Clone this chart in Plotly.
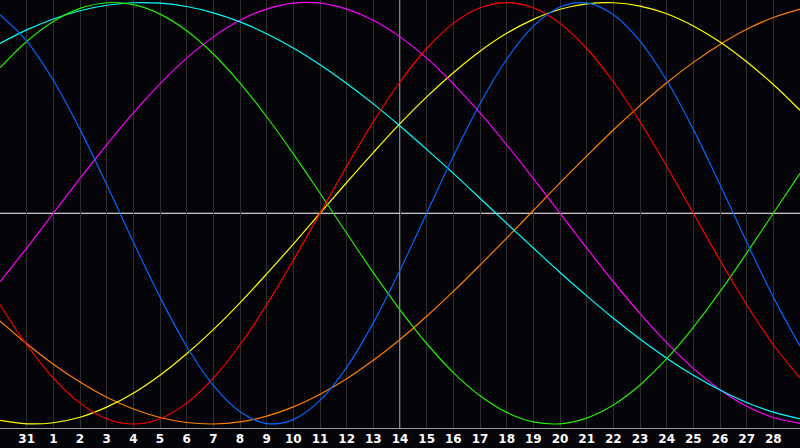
import plotly.graph_objects as go

# day positions across the chart (0..30), labels on days 1..29
days = list(range(31))
tick_pos = list(range(1, 30))
tick_labels = ["31"] + [str(d) for d in range(1, 29)]

# curve values, one per day
blue = [0.942, 0.817, 0.631, 0.398, 0.136, -0.136, -0.398, -0.631, -0.817, -0.942,
        -0.998, -0.979, -0.888, -0.731, -0.520, -0.270, 0.0, 0.270, 0.520, 0.731,
        0.888, 0.979, 0.998, 0.942, 0.817, 0.631, 0.398, 0.136, -0.136, -0.398, -0.631]
red = [-0.434, -0.624, -0.782, -0.901, -0.975, -1.0, -0.975, -0.901, -0.782, -0.624,
       -0.434, -0.223, 0.0, 0.223, 0.434, 0.624, 0.782, 0.901, 0.975, 1.0,
       0.975, 0.901, 0.782, 0.624, 0.434, 0.223, 0.0, -0.223, -0.434, -0.624, -0.782]
green = [0.690, 0.815, 0.910, 0.972, 0.999, 0.990, 0.945, 0.866, 0.756, 0.618,
         0.458, 0.282, 0.095, -0.095, -0.282, -0.458, -0.618, -0.756, -0.866, -0.945,
         -0.990, -0.999, -0.972, -0.910, -0.815, -0.690, -0.541, -0.372, -0.189, 0.0, 0.189]
cyan = [0.806, 0.870, 0.922, 0.961, 0.987, 0.999, 0.997, 0.981, 0.951, 0.908,
        0.852, 0.784, 0.705, 0.616, 0.519, 0.414, 0.303, 0.189, 0.071, -0.048,
        -0.165, -0.281, -0.392, -0.498, -0.597, -0.688, -0.769, -0.839, -0.898, -0.944, -0.976]
magenta = [-0.325, -0.165, 0.0, 0.165, 0.325, 0.476, 0.614, 0.736, 0.837, 0.916,
           0.969, 0.997, 0.997, 0.969, 0.916, 0.837, 0.736, 0.614, 0.476, 0.325,
           0.165, 0.0, -0.165, -0.325, -0.476, -0.614, -0.736, -0.837, -0.916, -0.969, -0.997]
yellow = [-0.983, -0.999, -0.994, -0.968, -0.920, -0.854, -0.769, -0.667, -0.552, -0.425,
          -0.288, -0.146, 0.0, 0.146, 0.288, 0.425, 0.552, 0.667, 0.769, 0.854,
          0.920, 0.968, 0.994, 0.999, 0.983, 0.947, 0.889, 0.813, 0.719, 0.611, 0.489]
orange = [-0.511, -0.619, -0.716, -0.801, -0.873, -0.929, -0.969, -0.993, -1.0, -0.990,
          -0.963, -0.919, -0.859, -0.785, -0.698, -0.599, -0.489, -0.371, -0.246, -0.118,
          0.013, 0.144, 0.271, 0.395, 0.511, 0.619, 0.716, 0.801, 0.873, 0.929, 0.969]

series = [
    (orange, "#ff8000"),
    (yellow, "#ffff00"),
    (magenta, "#ff00ff"),
    (cyan, "#00ffff"),
    (green, "#22ee00"),
    (red, "#ff0000"),
    (blue, "#0066ff"),
]

fig = go.Figure()
for vals, col in series:
    fig.add_trace(go.Scatter(x=days, y=vals, mode="lines",
                             line=dict(color=col, width=1.2, shape="spline"),
                             hoverinfo="skip"))

# white cross: today line and zero line
fig.add_shape(type="line", x0=15, x1=15, y0=0, y1=1, xref="x", yref="paper",
              line=dict(color="white", width=1), layer="below")
fig.add_shape(type="line", x0=0, x1=1, y0=0, y1=0, xref="paper", yref="y",
              line=dict(color="white", width=1), layer="below")

fig.update_layout(
    width=800, height=448,
    margin=dict(l=0, r=0, t=0, b=20),
    paper_bgcolor="#050408", plot_bgcolor="#050408",
    showlegend=False,
    xaxis=dict(range=[0, 30], tickvals=tick_pos, ticktext=tick_labels,
               showgrid=True, gridcolor="#2e2e2e", gridwidth=1, zeroline=False,
               showline=True, linecolor="#9a9a9a", linewidth=1, mirror=True,
               ticks="", tickfont=dict(family="DejaVu Sans", size=12, color="white", weight="bold")),
    yaxis=dict(range=[-1.019, 1.012], showgrid=False, zeroline=False,
               showticklabels=False, showline=True, linecolor="#9a9a9a",
               linewidth=1, mirror=True),
)

fig.write_html("out.html", config={"displayModeBar": False},
               post_script="document.body.style.margin='0';")
